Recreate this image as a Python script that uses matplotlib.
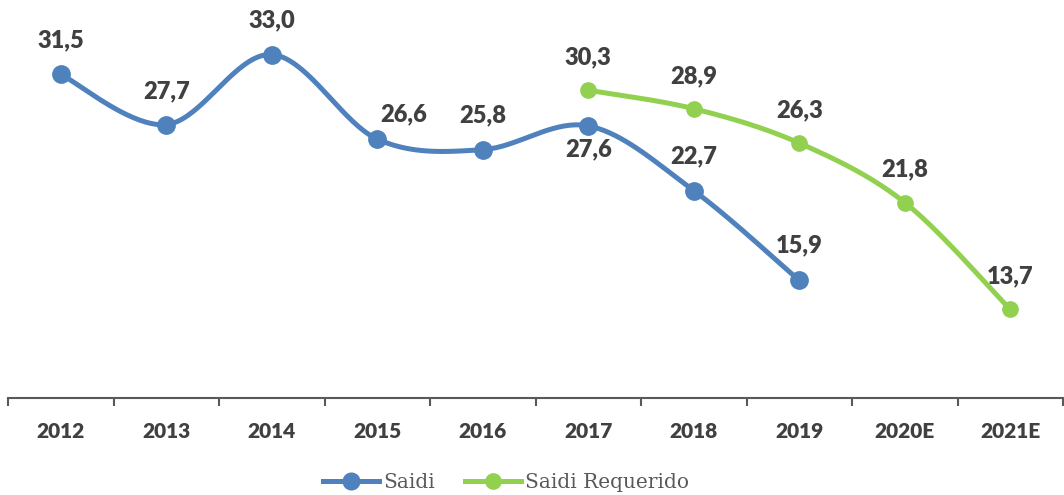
import numpy as np
import matplotlib
matplotlib.use("Agg")
from matplotlib import pyplot as plt

# data
years = ["2012", "2013", "2014", "2015", "2016", "2017", "2018", "2019", "2020E", "2021E"]
saidi = [31.5, 27.7, 33.0, 26.6, 25.8, 27.6, 22.7, 15.9]
saidi_req = [30.3, 28.9, 26.3, 21.8, 13.7]
req_start = 5  # Saidi Requerido starts at 2017

BLUE = "#4F81BD"
GREEN = "#92D050"
TXT = "#404040"

def smooth(xs, ys, n=40):
    # excel-like smoothed line (catmull-rom as cubic bezier)
    x = np.asarray(xs, float)
    y = np.asarray(ys, float)
    px, py = [], []
    m = len(x)
    for i in range(m - 1):
        i0 = max(i - 1, 0)
        i3 = min(i + 2, m - 1)
        c1x = x[i] + (x[i + 1] - x[i0]) / 6
        c1y = y[i] + (y[i + 1] - y[i0]) / 6
        c2x = x[i + 1] - (x[i3] - x[i]) / 6
        c2y = y[i + 1] - (y[i3] - y[i]) / 6
        t = np.linspace(0, 1, n)
        a, b, c, d = (1 - t) ** 3, 3 * (1 - t) ** 2 * t, 3 * (1 - t) * t ** 2, t ** 3
        px.extend(a * x[i] + b * c1x + c * c2x + d * x[i + 1])
        py.extend(a * y[i] + b * c1y + c * c2y + d * y[i + 1])
    return px, py

fig = plt.figure(figsize=(10.64, 4.95), dpi=100)
ax = fig.add_axes([8 / 1064, 97 / 495, 1055 / 1064, 398 / 495])

xb = np.arange(len(saidi))
xg = np.arange(req_start, req_start + len(saidi_req))

sx, sy = smooth(xb, saidi)
ax.plot(sx, sy, color=BLUE, lw=3.6, solid_capstyle="round", zorder=2)
ax.plot(xb, saidi, ls="none", marker="o", ms=12.5, color=BLUE, zorder=3)
gx, gy = smooth(xg, saidi_req)
ax.plot(gx, gy, color=GREEN, lw=3.6, solid_capstyle="round", zorder=2)
ax.plot(xg, saidi_req, ls="none", marker="o", ms=11, color=GREEN, zorder=3)

# legend handles
ax.plot([], [], color=BLUE, lw=3.6, marker="o", ms=12, label="Saidi")
ax.plot([], [], color=GREEN, lw=3.6, marker="o", ms=11, label="Saidi Requerido")

def fmt(v):
    return ("%.1f" % v).replace(".", ",")

blue_off = [(0, 19.5), (0, 19), (0, 19.5), (19, 12.5), (0, 19.5), (0, -22), (0, 19.5), (0, 20)]
for x, v, (dx, dy) in zip(xb, saidi, blue_off):
    ax.annotate(fmt(v), (x, v), xytext=(dx, dy), textcoords="offset points",
                ha="center", va="baseline", fontsize=17, fontweight="heavy",
                color=TXT, family="Lato")
for x, v in zip(xg, saidi_req):
    ax.annotate(fmt(v), (x, v), xytext=(0, 18.5), textcoords="offset points",
                ha="center", va="baseline", fontsize=17, fontweight="heavy",
                color=TXT, family="Lato")

ax.set_xlim(-0.5, len(years) - 0.5)
ax.set_ylim(7.0, 37.13)
for s in ["left", "right", "top"]:
    ax.spines[s].set_visible(False)
ax.spines["bottom"].set_color("#595959")
ax.spines["bottom"].set_linewidth(1.5)
ax.set_yticks([])
ax.set_xticks(np.arange(len(years)))
ax.set_xticklabels(years, fontsize=15, fontweight="heavy", color=TXT, family="Lato")
ax.tick_params(axis="x", which="major", length=0, pad=17)
ax.set_xticks(np.arange(-0.5, len(years)), minor=True)
ax.tick_params(axis="x", which="minor", length=6, width=1.5, color="#595959", direction="out")

leg = fig.legend(loc="center", bbox_to_anchor=(506 / 1064, 1 - 483 / 495), ncol=2, frameon=False,
                 prop={"family": "DejaVu Serif", "size": 14.5}, handlelength=2.8,
                 handletextpad=0.2, columnspacing=1.5)
for t in leg.get_texts():
    t.set_color("#595959")

fig.savefig("out.png", dpi=100)
